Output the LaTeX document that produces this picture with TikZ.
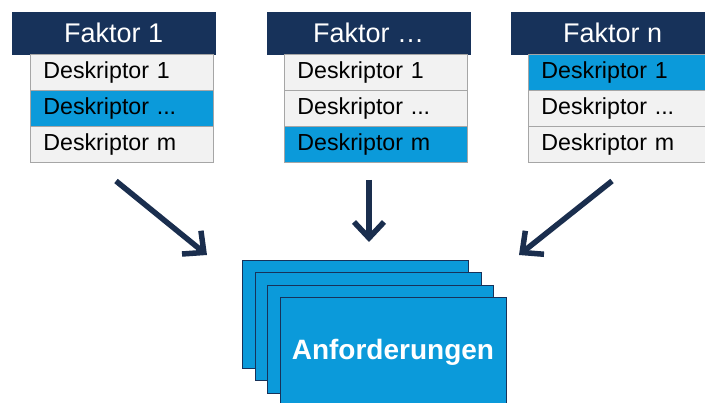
\documentclass[tikz,border=0pt]{standalone}
\usepackage{fontspec}
\setmainfont{Liberation Sans}
\usetikzlibrary{arrows.meta}
\definecolor{navy}{HTML}{17325A}
\definecolor{arrowc}{HTML}{1A2E4E}
\definecolor{hiblue}{HTML}{0B9ADA}
\definecolor{rowgray}{HTML}{F2F2F2}
\definecolor{rowline}{HTML}{A6A6A6}
\tikzset{
  header/.style={fill=navy, draw=navy, minimum width=203pt, minimum height=42pt, inner sep=0pt, anchor=north west, text=white, font=\fontsize{27}{30}\selectfont},
  row/.style={fill=rowgray, draw=rowline, line width=0.8pt, minimum height=36pt, text width=157pt, inner xsep=13pt, inner ysep=0pt, align=left, anchor=north west, font=\fontsize{23.2}{26}\selectfont, text=black},
  hirow/.style={row, fill=hiblue},
  card/.style={fill=hiblue, draw=navy, line width=0.9pt, minimum width=226pt, minimum height=108pt, inner sep=0pt, anchor=north west},
  bigarrow/.style={draw=arrowc, line width=5.5pt, -{Straight Barb[length=16pt,width=30pt]}}
}
\begin{document}
\begin{tikzpicture}[x=1pt,y=-1pt]
\useasboundingbox (0,0) rectangle (705,403);
\clip (0,0) rectangle (705,403);
\fill[white] (0,0) rectangle (705,403);
% column 1
\node[header] (h1) at (12,12) {Faktor 1};
\node[row] (a1) at (30,54) {Deskriptor 1};
\node[hirow] (a2) at (30,90) {Deskriptor ...};
\node[row] (a3) at (30,126) {Deskriptor m};
% column 2
\node[header] (h2) at (267,12) {Faktor \dots};
\node[row] (b1) at (284,54) {Deskriptor 1};
\node[row] (b2) at (284,90) {Deskriptor ...};
\node[hirow] (b3) at (284,126) {Deskriptor m};
% column 3
\node[header] (h3) at (511,12) {Faktor n};
\node[hirow] (c1) at (528,54) {Deskriptor 1};
\node[row] (c2) at (528,90) {Deskriptor ...};
\node[row] (c3) at (528,126) {Deskriptor m};
% cards
\node[card] (k1) at (242,260) {};
\node[card] (k2) at (254.5,272.5) {};
\node[card] (k3) at (267,285) {};
\node[card, text=white, font=\bfseries\fontsize{28}{32}\selectfont] (k4) at (279.5,297.5) {Anforderungen};
% arrows
\coordinate (s1) at (116,181);
\coordinate (e1) at (207,255);
\coordinate (s2) at (369,180);
\coordinate (e2) at (369,242);
\coordinate (s3) at (612,181);
\coordinate (e3) at (519,255);
\draw[bigarrow] (s1) -- (e1);
\draw[bigarrow] (s2) -- (e2);
\draw[bigarrow] (s3) -- (e3);
\end{tikzpicture}
\end{document}
